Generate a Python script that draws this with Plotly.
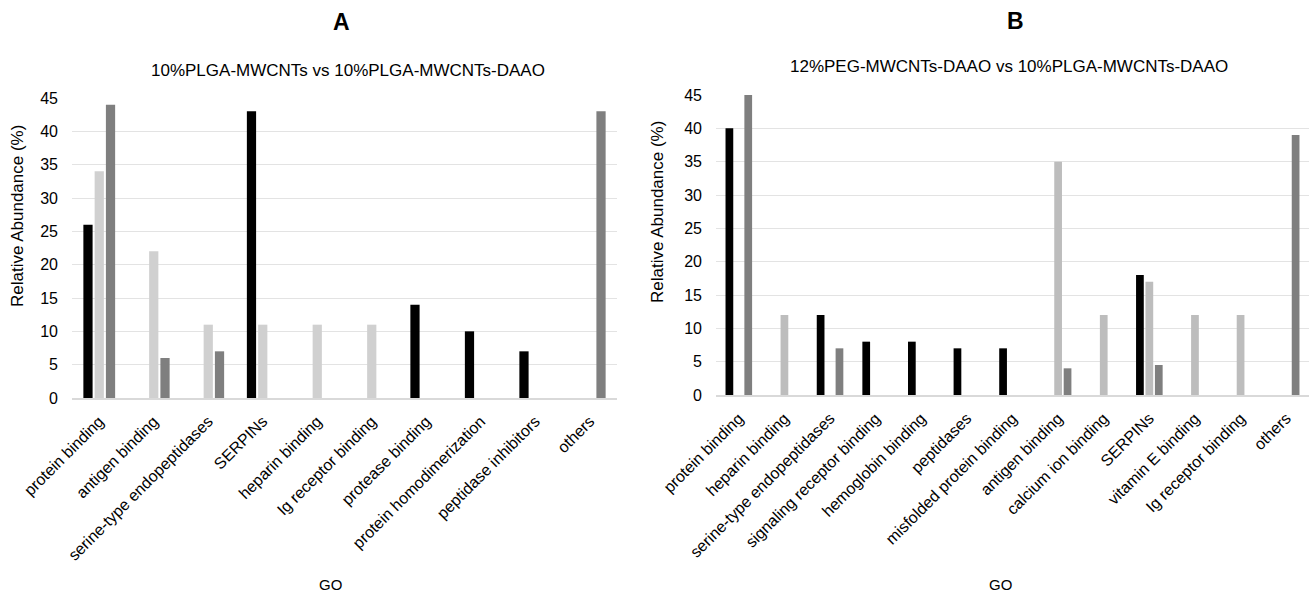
import plotly.graph_objects as go

# Panel A: 10%PLGA-MWCNTs vs 10%PLGA-MWCNTs-DAAO
cats_a = ["protein binding", "antigen binding", "serine-type endopeptidases", "SERPINs",
          "heparin binding", "Ig receptor binding", "protease binding",
          "protein homodimerization", "peptidase inhibitors", "others"]
a_s1 = [26, 0, 0, 43, 0, 0, 14, 10, 7, 0]
a_s2 = [34, 22, 11, 11, 11, 11, 0, 0, 0, 0]
a_s3 = [44, 6, 7, 0, 0, 0, 0, 0, 0, 43]

# Panel B: 12%PEG-MWCNTs-DAAO vs 10%PLGA-MWCNTs-DAAO
cats_b = ["protein binding", "heparin binding", "serine-type endopeptidases",
          "signaling receptor binding", "hemoglobin binding", "peptidases",
          "misfolded protein binding", "antigen binding", "calcium ion binding",
          "SERPINs", "vitamin E binding", "Ig receptor binding", "others"]
b_s1 = [40, 0, 12, 8, 8, 7, 7, 0, 0, 18, 0, 0, 0]
b_s2 = [0, 12, 0, 0, 0, 0, 0, 35, 12, 17, 12, 12, 0]
b_s3 = [45, 0, 7, 0, 0, 0, 0, 4, 0, 4.5, 0, 0, 39]

y_ticks = [0, 5, 10, 15, 20, 25, 30, 35, 40, 45]

FONT = "Arial, Liberation Sans, sans-serif"
W, H = 1312, 596

fig = go.Figure()

def add_group(cats, vals, colors, xa, ya):
    for v, c in zip(vals, colors):
        fig.add_trace(go.Bar(x=cats, y=v, marker=dict(color=c, line=dict(width=0)),
                             xaxis=xa, yaxis=ya, showlegend=False))

add_group(cats_a, [a_s1, a_s2, a_s3], ["#000000", "#d0d0d0", "#7f7f7f"], "x", "y")
add_group(cats_b, [b_s1, b_s2, b_s3], ["#000000", "#bdbdbd", "#7f7f7f"], "x2", "y2")

def px_x(p):
    return p / W

def px_y(p):
    return 1 - p / H

# invisible ticks keep the slanted category labels a little below the axis line
xcommon = dict(type="category", tickangle=-45, showgrid=False, showline=True,
               linecolor="#d9d9d9", linewidth=1.5, ticks="outside", ticklen=6,
               tickcolor="rgba(0,0,0,0)", automargin=False,
               tickfont=dict(family=FONT, size=16, color="#000000"))
ycommon = dict(range=[0, 45], tickvals=y_ticks, gridcolor="#e3e3e3", gridwidth=1,
               zeroline=False, showline=False, ticks="", ticklabelstandoff=13,
               automargin=False,
               tickfont=dict(family=FONT, size=16, color="#000000"))

fig.update_layout(
    width=W, height=H,
    margin=dict(l=0, r=0, t=0, b=0),
    plot_bgcolor="white", paper_bgcolor="white",
    barmode="group", bargap=0.38, bargroupgap=0.18,
    font=dict(family=FONT, color="#000000"),
    xaxis=dict(domain=[px_x(72), px_x(617)], anchor="y", **xcommon),
    yaxis=dict(domain=[px_y(398), px_y(98)], anchor="x", **ycommon),
    xaxis2=dict(domain=[px_x(716), px_x(1309)], anchor="y2", **xcommon),
    yaxis2=dict(domain=[px_y(395), px_y(95)], anchor="x2", **ycommon),
)

ann = [
    dict(text="<b>A</b>", x=px_x(341), y=px_y(22), size=23),
    dict(text="<b>B</b>", x=px_x(1015), y=px_y(21), size=23),
    dict(text="10%PLGA-MWCNTs vs 10%PLGA-MWCNTs-DAAO", x=px_x(348), y=px_y(70), size=17),
    dict(text="12%PEG-MWCNTs-DAAO vs 10%PLGA-MWCNTs-DAAO", x=px_x(1009), y=px_y(66), size=17),
    dict(text="GO", x=px_x(330), y=px_y(584), size=15),
    dict(text="GO", x=px_x(1000), y=px_y(584), size=15),
]
for a in ann:
    fig.add_annotation(text=a["text"], x=a["x"], y=a["y"], xref="paper", yref="paper",
                       showarrow=False, xanchor="center", yanchor="middle",
                       font=dict(family=FONT, size=a["size"], color="#000000"))

for xpos, ypos in [(18, 216), (657, 212)]:
    fig.add_annotation(text="Relative Abundance (%)", x=px_x(xpos), y=px_y(ypos),
                       xref="paper", yref="paper", showarrow=False, textangle=-90,
                       xanchor="center", yanchor="middle",
                       font=dict(family=FONT, size=17, color="#000000"))

fig.write_html("out.html")
